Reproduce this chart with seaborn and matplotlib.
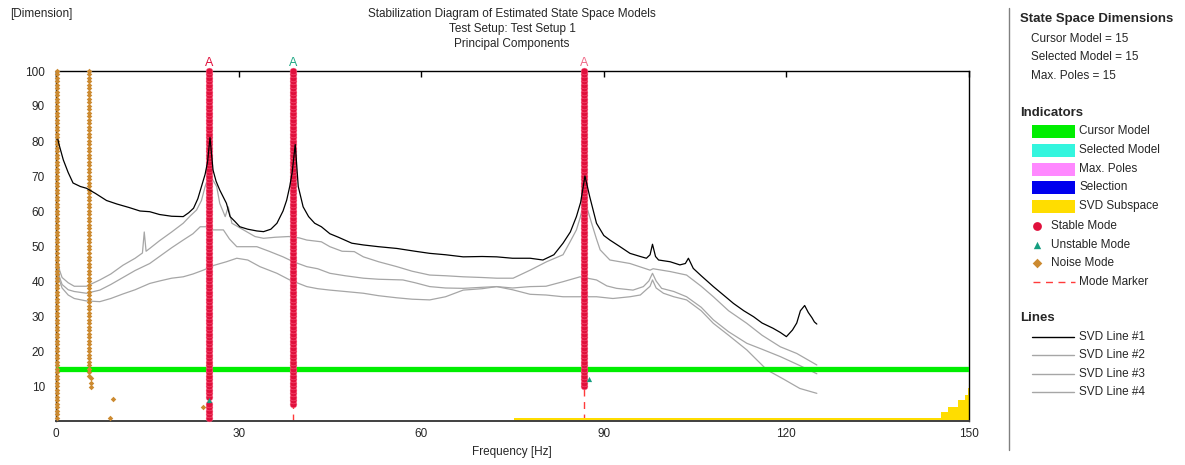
import numpy as np
import pandas as pd
import matplotlib
matplotlib.use("Agg")
import matplotlib.pyplot as plt
import seaborn as sns

# ---------------- data ----------------
svd1_f = [0.3, 0.5, 1.2, 2.0, 2.8, 4.0, 5.0, 6.5, 8.3, 10, 12, 13.8, 15.4, 17, 19, 20.9, 21.8, 22.6, 23.3,
          23.9, 24.5, 24.9, 25.3, 25.8, 26.3, 26.9, 28.0, 28.6, 29.4, 30.2, 31.5, 33, 34.1, 35.3, 36.3, 37.3,
          37.9, 38.4, 38.8, 39.3, 39.8, 40.6, 41.5, 42.5, 43.6, 45, 46.4, 48.6, 50.5, 53, 56, 59, 61.4, 64,
          66.9, 70, 72.4, 75, 77.9, 80, 81.8, 83.3, 84.5, 85.5, 86.2, 86.9, 87.7, 88.8, 90, 91, 92.5, 94.3,
          96, 97, 97.6, 98, 98.5, 99, 100.9, 102.5, 103.4, 103.9, 104.7, 106, 108, 110, 111.3, 113, 114.6,
          116, 117.8, 119, 120, 121, 121.7, 122.3, 123, 123.6, 124.2, 124.6, 125]
svd1_v = [80.5, 79, 74.6, 71, 68, 67, 66.5, 65, 63, 62, 61, 60, 59.8, 59, 58.5, 58.4, 59.5, 60.8, 63.5,
          67, 70.5, 74, 81, 71.7, 68.5, 66, 62.2, 58.4, 57, 55.5, 54.8, 54.3, 54.1, 54.8, 56.5, 60,
          63.1, 67, 71, 79, 67, 61.2, 58.4, 56.5, 55.5, 53.5, 52.5, 50.8, 50.3, 49.8, 49.3, 48.5, 47.9, 47.5,
          46.9, 47, 46.9, 46.5, 46.5, 46, 47.5, 50.8, 54, 58.4, 62.5, 70, 64, 56.5, 53, 51.7, 50, 47.9,
          47, 46.5, 47.5, 50.5, 47, 46, 45.5, 44.6, 45, 46.5, 43.6, 41.5, 38.4, 35.5, 33.6, 31.5, 29.8,
          28, 26.5, 25.3, 24.1, 26, 28, 31.5, 33, 31, 29.5, 28.3, 27.7]

svd2_f = [0.3, 0.6, 1, 2, 3, 5, 7.2, 9, 11, 13, 14.2, 14.5, 14.8, 15.4, 17, 19, 20.9, 22, 23.1, 23.9, 24.5,
          25.1, 25.7, 26.4, 26.9, 27.8, 28.3, 28.9, 30.8, 32.7, 34.1, 36, 38.2, 40, 41.2, 43.6, 45, 47, 49,
          50.5, 53, 56, 58.5, 61.4, 64, 66.9, 70, 72.4, 75.1, 77.9, 80.6, 83.3, 84.4, 85.5, 86.1, 86.8, 87.4,
          88, 88.8, 89.4, 90.5, 91, 94.3, 97.6, 98.1, 100.9, 103.6, 106, 108, 110.5, 113.5, 116, 119, 121.7,
          123.5, 125]
svd2_v = [46, 43, 41, 39.5, 38.5, 38.5, 40.3, 42, 44.5, 46.5, 48, 54, 48.5, 49.3, 51.5, 54, 56.5, 58.5, 60.3,
          63, 67, 70, 69, 67, 62.2, 58.4, 61.2, 56.5, 54.6, 52.7, 52.2, 52.5, 52.7, 52.3, 51.7, 51.2, 49.8,
          48.5, 48.4, 46.9, 45.5, 44.1, 42.8, 41.7, 41.5, 41.2, 41, 40.8, 40.8, 43.1, 45.5, 47.5, 51, 54.6,
          58, 63, 60, 56.5, 52, 48.9, 46.9, 46, 45, 43.1, 43.5, 42.7, 41.7, 38.5, 35.5, 31.5, 27.9, 24.5,
          21.2, 19.3, 17.5, 16]

svd3_f = [0.3, 0.6, 1, 2, 3, 5, 7.2, 9, 11, 13, 15.4, 17, 19, 20.9, 22.5, 23.7, 25, 25.8, 27.5, 28.5, 29.7,
          31.5, 33, 35, 37.3, 39, 41.2, 43, 45, 47.5, 50.5, 53, 57, 59, 61.4, 64, 66.9, 70, 72.4, 75, 77.9,
          80.5, 83.3, 86.1, 88.8, 90.5, 92.1, 94.8, 96.5, 97.4, 98, 98.6, 99.5, 101.5, 103.6, 106, 108,
          110.5, 113.5, 116, 119, 122, 125]
svd3_v = [44, 41, 39, 37.5, 37, 36.5, 37.4, 39, 41, 43, 45, 47, 49.5, 51.7, 53.5, 55.5, 55.5, 54.6, 54.6,
          52, 49.8, 49.8, 49.8, 48.5, 46.9, 45.5, 44.1, 43.5, 42.2, 41.5, 40.8, 40.5, 40.3, 39.5, 38.4, 38,
          37.9, 38.2, 38.4, 38, 38.4, 38.5, 39.8, 41.2, 40.3, 38.6, 37.9, 37.4, 38.4, 40, 42.2, 40, 37.9,
          37, 35.5, 32.5, 28.9, 25.5, 22.2, 20.5, 18.4, 16, 13.5]

svd4_f = [0.3, 0.6, 1, 2, 3, 5, 7.2, 9, 11, 13, 15.4, 17, 19, 20.9, 22.5, 24.2, 26, 28, 29.7, 31.5, 33.5,
          36.3, 38.4, 41.2, 43, 45, 47.5, 50.5, 53, 56, 58.5, 61.4, 64, 66.9, 70, 72.4, 75, 77.9, 80.5,
          83.3, 86, 88.8, 91.5, 94.3, 96, 97.6, 98, 98.6, 99.8, 101.5, 103.6, 106, 108, 110.5, 113.5,
          116.8, 119.5, 122.2, 125]
svd4_v = [43, 40, 38, 36, 35, 34.3, 34.1, 35, 36.3, 37.5, 39.3, 40, 40.8, 41.2, 42, 43.1, 44.5, 45.5, 46.5,
          46, 44.1, 42.2, 40.3, 38.4, 37.8, 37.4, 37, 36.5, 35.8, 35.2, 34.8, 34.6, 35.5, 37.4, 37.8, 38.4,
          37.5, 36.2, 36, 35.5, 35.5, 35.5, 35, 35.5, 36, 38.5, 40.3, 38, 36.5, 35.5, 34.6, 31.5, 27.9,
          24.5, 20.3, 14.6, 12, 9.3, 7.9]

# stable mode columns: frequency, lowest order, highest order
stable_seg_freq = [25.1, 25.1, 38.9, 86.7]
stable_seg_lo = [1, 7, 5, 10]
stable_seg_hi = [5, 100, 100, 100]
unstable_freq = [25.2, 87.6]
unstable_order = [6, 12]
noise_seg_freq = [0.1, 5.4]
noise_seg_lo = [1, 14]
noise_seg_hi = [100, 100]
noise_iso_freq = [5.5, 5.7, 5.8, 5.8, 9.3, 8.9, 24.2]
noise_iso_order = [13, 12.3, 11, 9.8, 6.2, 0.8, 3.9]

mode_freqs = [25.1, 38.9, 86.7]
cursor_model = 15
selected_model = 15
max_poles = 15

svd_sub_edges = [75.2, 145.4, 146.5, 148.2, 149.3, 149.8, 150.0]
svd_sub_heights = [0.8, 2.7, 3.9, 6.0, 7.4, 9.3]

x_ticks = [0, 30, 60, 90, 120, 150]
y_ticks = [10, 20, 30, 40, 50, 60, 70, 80, 90, 100]

title_lines = ["Stabilization Diagram of Estimated State Space Models",
               "Test Setup: Test Setup 1", "Principal Components"]
indicator_labels = ["Cursor Model", "Selected Model", "Max. Poles", "Selection", "SVD Subspace"]
marker_labels = ["Stable Mode", "Unstable Mode", "Noise Mode", "Mode Marker"]
line_labels = ["SVD Line #1", "SVD Line #2", "SVD Line #3", "SVD Line #4"]

# ---------------- style ----------------
sns.set_style("white")
plt.rcParams['font.family'] = ['Liberation Sans', 'DejaVu Sans']

C_STABLE = '#e0103c'
C_UNSTABLE = '#159e80'
C_NOISE = '#cc8a30'
C_GREEN = '#00ee00'
C_YELLOW = '#ffdd00'
C_GRAY = '#a6a6a6'
C_MARK = '#ff3b3b'
indicator_colors = [C_GREEN, '#33f5de', '#ff88ff', '#0000ee', C_YELLOW]
mode_letter_colors = [C_STABLE, '#20a884', '#f06a88']

W, H = 1185, 465
fig = plt.figure(figsize=(W / 100, H / 100), dpi=100)
ax = fig.add_axes([56 / W, 1 - 421 / H, (969 - 56) / W, (421 - 71) / H])

# SVD lines (black line above the mode columns, grey lines below)
svd_f = [svd1_f, svd2_f, svd3_f, svd4_f]
svd_v = [svd1_v, svd2_v, svd3_v, svd4_v]
for i, (f, v) in enumerate(zip(svd_f, svd_v)):
    df = pd.DataFrame({'f': f, 'v': v})
    sns.lineplot(data=df, x='f', y='v', ax=ax, color='black' if i == 0 else C_GRAY,
                 linewidth=0.9, estimator=None, sort=False,
                 zorder=8 if i == 0 else 3 - i * 0.1)

# SVD subspace
edges = np.array(svd_sub_edges)
heights = np.array(svd_sub_heights + [svd_sub_heights[-1]])
ax.fill_between(edges, 0, heights, step='post', color=C_YELLOW, linewidth=0, zorder=2)

# cursor model band
ax.axhline(cursor_model, color=C_GREEN, linewidth=3.8, zorder=4)

# mode markers
ax.vlines(mode_freqs, 0, 100, colors=C_MARK, linestyles=(0, (5, 4)), linewidth=1.0, zorder=1.5)

# stable modes
st_f, st_o = [], []
for f, lo, hi in zip(stable_seg_freq, stable_seg_lo, stable_seg_hi):
    orders = np.arange(lo, hi + 1)
    st_f += [f] * len(orders)
    st_o += list(orders)
sns.scatterplot(x=st_f, y=st_o, ax=ax, color=C_STABLE, s=24, marker='o', linewidth=0.3,
                edgecolor='#ff6f8f', zorder=6, clip_on=False)

# unstable modes
sns.scatterplot(x=unstable_freq, y=unstable_order, ax=ax, color=C_UNSTABLE, s=14, marker='^',
                linewidth=0, zorder=7, clip_on=False)

# noise modes
nz_f, nz_o = [], []
for f, lo, hi in zip(noise_seg_freq, noise_seg_lo, noise_seg_hi):
    orders = np.arange(lo, hi + 1)
    nz_f += [f] * len(orders)
    nz_o += list(orders)
nz_f += noise_iso_freq
nz_o += noise_iso_order
sns.scatterplot(x=nz_f, y=nz_o, ax=ax, color=C_NOISE, s=8, marker='D', linewidth=0,
                zorder=6, clip_on=False)

# mode letters above the plot
for f, c in zip(mode_freqs, mode_letter_colors):
    ax.text(f, 102.4, 'A', ha='center', va='center', color=c, fontsize=9, clip_on=False)

ax.set_xlim(0, 150)
ax.set_ylim(0, 100)
ax.set_xticks(x_ticks)
ax.set_xticklabels([str(t) for t in x_ticks], fontsize=8.5)
ax.set_yticks(y_ticks)
ax.set_yticklabels([str(t) for t in y_ticks], fontsize=8.5)
ax.tick_params(axis='x', direction='in', top=True, length=4, width=1, color='black', pad=5)
ax.tick_params(axis='y', length=0, pad=8)
ax.set_xlabel('')
ax.set_ylabel('')
for s in ax.spines.values():
    s.set_color('black')
    s.set_linewidth(1.0)
    s.set_visible(True)
ax.spines['bottom'].set_color('#404040')
ax.spines['bottom'].set_linewidth(1.4)

fig.text(512 / W, 1 - 452 / H, 'Frequency [Hz]', ha='center', va='center', fontsize=8.5)
fig.text(10 / W, 1 - 14 / H, '[Dimension]', ha='left', va='center', fontsize=8.5)
for k, t in enumerate(title_lines):
    fig.text(512 / W, 1 - (14 + 15 * k) / H, t, ha='center', va='center', fontsize=8.5)

# ---------------- right legend panel ----------------
lax = fig.add_axes([1000 / W, 0, 185 / W, 1])
lax.set_xlim(1000, 1185)
lax.set_ylim(H, 0)
lax.axis('off')
lax.plot([1009, 1009], [8, 450], color='#808080', linewidth=1.0)

lax.text(1020, 19, 'State Space Dimensions', fontsize=9.5, fontweight='bold', va='center')
for k, t in enumerate([f'Cursor Model = {cursor_model}', f'Selected Model = {selected_model}',
                       f'Max. Poles = {max_poles}']):
    lax.text(1031, 39 + 18.5 * k, t, fontsize=8.5, va='center')

lax.text(1020, 113, 'Indicators', fontsize=9.5, fontweight='bold', va='center')
ind_y = [131, 150, 169, 187, 206]
for y, lab, c in zip(ind_y, indicator_labels, indicator_colors):
    lax.add_patch(plt.Rectangle((1031.5, y - 6.5), 43.5, 13, color=c, linewidth=0))
    lax.text(1079, y, lab, fontsize=8.5, va='center')

mk_y = [226, 245, 263, 282]
lax.scatter([1037], [mk_y[0]], s=40, color=C_STABLE, marker='o', linewidth=0)
lax.scatter([1037], [mk_y[1]], s=28, color=C_UNSTABLE, marker='^', linewidth=0)
lax.scatter([1037], [mk_y[2]], s=24, color=C_NOISE, marker='D', linewidth=0)
lax.plot([1033, 1075], [mk_y[3], mk_y[3]], color=C_MARK, linewidth=1.0, linestyle=(0, (5, 4)))
for k, lab in enumerate(marker_labels):
    lax.text(1051 if k < 3 else 1079, mk_y[k], lab, fontsize=8.5, va='center')

lax.text(1020, 318, 'Lines', fontsize=9.5, fontweight='bold', va='center')
ln_y = [337, 355, 374, 392]
for k, (y, lab) in enumerate(zip(ln_y, line_labels)):
    lax.plot([1031.5, 1074], [y, y], color='black' if k == 0 else C_GRAY, linewidth=1.0)
    lax.text(1079, y, lab, fontsize=8.5, va='center')

fig.savefig('out.png', dpi=100)
